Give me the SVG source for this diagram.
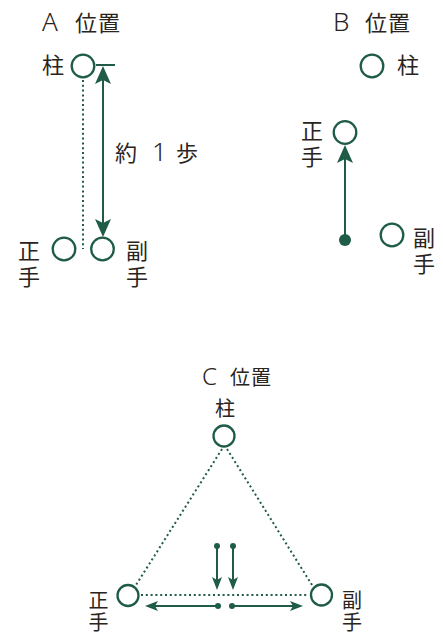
<svg xmlns="http://www.w3.org/2000/svg" width="443" height="634" viewBox="0 0 443 634">
<style>
.t{font-family:"Noto Sans CJK JP","Noto Sans",sans-serif;fill:#2a2420;font-size:22px}
.ts{font-family:"Noto Sans CJK JP","Noto Sans",sans-serif;fill:#2a2420;font-size:20px}
.lat{font-family:"Noto Sans","Liberation Sans",sans-serif;font-weight:300;font-size:26px}
.lats{font-family:"Noto Sans","Liberation Sans",sans-serif;font-weight:300;font-size:24px}
.c{fill:#fff;stroke:#1f5c47;stroke-width:2.3}
.ln{stroke:#1f5c47;stroke-width:2;fill:none}
.dt{stroke:#1f5c47;stroke-width:2;fill:none;stroke-dasharray:2 2.8}
.dot{fill:#1f5c47}
</style>
<defs>
<marker id="aL" viewBox="0 0 18 16" refX="8" refY="8" markerWidth="18" markerHeight="16" markerUnits="userSpaceOnUse" orient="auto-start-reverse">
<path d="M0,0 L18,8 L0,16 L4,8 Z" fill="#1f5c47"/>
</marker>
<marker id="aS" viewBox="0 0 13 10" refX="6" refY="5" markerWidth="13" markerHeight="10" markerUnits="userSpaceOnUse" orient="auto-start-reverse">
<path d="M0,0 L13,5 L0,10 L3,5 Z" fill="#1f5c47"/>
</marker>
</defs>

<g id="titles">
<text class="t" y="31"><tspan class="lat" x="42">A </tspan><tspan x="75" letter-spacing="1">位置</tspan></text>
<text class="t" y="31"><tspan class="lat" x="333">B </tspan><tspan x="365" letter-spacing="1">位置</tspan></text>
<text class="ts" y="385"><tspan class="lats" x="202">C </tspan><tspan x="230" letter-spacing="1">位置</tspan></text>
</g>

<g id="connectors">
<line class="dt" x1="83" y1="80" x2="83" y2="249"/>
<line class="ln" x1="96" y1="65" x2="115" y2="65"/>
<line class="ln" x1="103" y1="76" x2="103" y2="227" marker-start="url(#aL)" marker-end="url(#aL)"/>
<line class="ln" x1="345" y1="240" x2="345" y2="155" marker-end="url(#aL)"/>
<line class="dt" x1="222" y1="449" x2="136" y2="585"/>
<line class="dt" x1="227" y1="449" x2="312" y2="585"/>
<line class="dt" x1="141" y1="595" x2="309" y2="595"/>
<line class="ln" x1="217" y1="546" x2="217" y2="583" marker-end="url(#aS)"/>
<line class="ln" x1="233" y1="546" x2="233" y2="583" marker-end="url(#aS)"/>
<line class="ln" x1="218" y1="606" x2="152" y2="606" marker-end="url(#aS)"/>
<line class="ln" x1="232" y1="606" x2="296" y2="606" marker-end="url(#aS)"/>
<circle class="dot" cx="345" cy="240" r="6"/>
<circle class="dot" cx="217" cy="546" r="3"/>
<circle class="dot" cx="233" cy="546" r="3"/>
<circle class="dot" cx="218" cy="606" r="3"/>
<circle class="dot" cx="232" cy="606" r="3"/>
</g>

<g id="label-step">
<text class="t" y="161"><tspan x="115">約 </tspan><tspan class="lat" x="152">1 </tspan><tspan x="176">歩</tspan></text>
</g>

<g id="A-hashira">
<circle class="c" cx="83" cy="66" r="11.3"/>
<text class="t" x="64" y="73" text-anchor="end">柱</text>
</g>
<g id="A-seite">
<circle class="c" cx="64" cy="249" r="11.3"/>
<text class="t" x="29" y="259" text-anchor="middle">正</text>
<text class="t" x="29" y="285" text-anchor="middle">手</text>
</g>
<g id="A-fukute">
<circle class="c" cx="102.5" cy="249" r="11.3"/>
<text class="t" x="137" y="259" text-anchor="middle">副</text>
<text class="t" x="137" y="285" text-anchor="middle">手</text>
</g>

<g id="B-hashira">
<circle class="c" cx="372" cy="66" r="11.3"/>
<text class="t" x="397" y="73">柱</text>
</g>
<g id="B-seite">
<circle class="c" cx="345" cy="132.5" r="11.3"/>
<text class="t" x="312" y="139" text-anchor="middle">正</text>
<text class="t" x="312" y="165" text-anchor="middle">手</text>
</g>
<g id="B-fukute">
<circle class="c" cx="392" cy="235" r="11.3"/>
<text class="t" x="424" y="246" text-anchor="middle">副</text>
<text class="t" x="424" y="272" text-anchor="middle">手</text>
</g>

<g id="C-hashira">
<circle class="c" cx="224" cy="436" r="10.5"/>
<text class="ts" x="225" y="416" text-anchor="middle">柱</text>
</g>
<g id="C-seite">
<circle class="c" cx="128" cy="595.5" r="10.5"/>
<text class="ts" x="98.5" y="608" text-anchor="middle">正</text>
<text class="ts" x="98.5" y="630" text-anchor="middle">手</text>
</g>
<g id="C-fukute">
<circle class="c" cx="321.5" cy="595" r="10.5"/>
<text class="ts" x="352" y="608" text-anchor="middle">副</text>
<text class="ts" x="352" y="630" text-anchor="middle">手</text>
</g>
</svg>
